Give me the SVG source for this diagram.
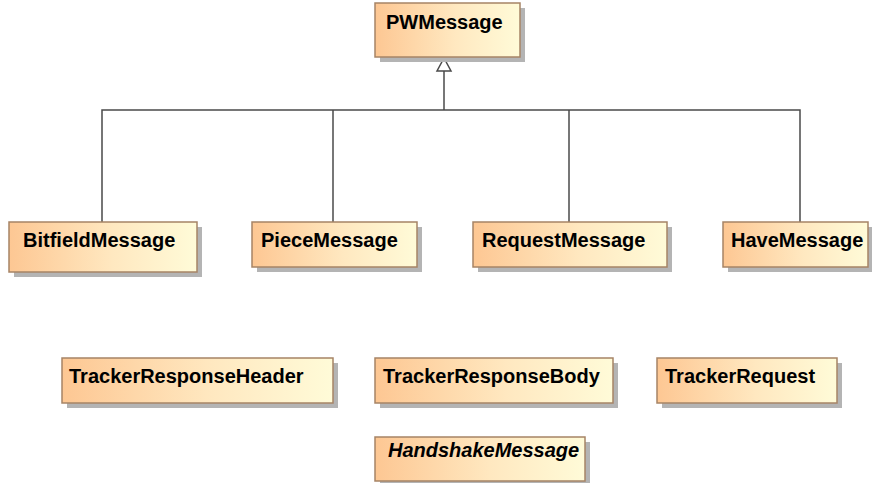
<svg xmlns="http://www.w3.org/2000/svg" width="872" height="483" viewBox="0 0 872 483">
  <defs>
    <linearGradient id="fillGrad" x1="0" y1="0" x2="1" y2="0">
      <stop offset="0" stop-color="#FDC793"/>
      <stop offset="0.55" stop-color="#FFE8C0"/>
      <stop offset="1" stop-color="#FFFBD8"/>
    </linearGradient>
  </defs>
  <style>
    .shadow { fill: #B4B4B4; }
    .box { fill: url(#fillGrad); stroke: #A68466; stroke-width: 1.5; }
    .label { font-family: "Liberation Sans", Arial, sans-serif; font-weight: bold; font-size: 20px; fill: #000; }
    .abstract { font-style: italic; }
    .edge { fill: none; stroke: #4A4A4A; stroke-width: 1.5; }
    .head { fill: #FFFFFF; stroke: #4A4A4A; stroke-width: 1.5; }
  </style>

  <rect width="872" height="483" fill="#FFFFFF"/>

  <!-- generalization connectors -->
  <g id="connectors">
    <path class="edge" d="M102 222 V110 H800 V222"/>
    <path class="edge" d="M333 222 V110"/>
    <path class="edge" d="M569 222 V110"/>
    <path class="edge" d="M444 110 V71"/>
    <polygon class="head" points="444,58 437,71 451,71"/>
  </g>

  <g id="PWMessage">
    <rect class="shadow" x="380" y="8" width="145" height="54"/>
    <rect class="box" x="375" y="3" width="145" height="54"/>
    <text class="label" x="386" y="29">PWMessage</text>
  </g>

  <g id="BitfieldMessage">
    <rect class="shadow" x="14" y="227" width="188" height="50"/>
    <rect class="box" x="9" y="222" width="188" height="50"/>
    <text class="label" x="23" y="247">BitfieldMessage</text>
  </g>

  <g id="PieceMessage">
    <rect class="shadow" x="257" y="227" width="165" height="45"/>
    <rect class="box" x="252" y="222" width="165" height="45"/>
    <text class="label" x="261" y="247">PieceMessage</text>
  </g>

  <g id="RequestMessage">
    <rect class="shadow" x="478" y="227" width="194" height="45"/>
    <rect class="box" x="473" y="222" width="194" height="45"/>
    <text class="label" x="482" y="247">RequestMessage</text>
  </g>

  <g id="HaveMessage">
    <rect class="shadow" x="728" y="227" width="145" height="45"/>
    <rect class="box" x="723" y="222" width="145" height="45"/>
    <text class="label" x="731" y="247">HaveMessage</text>
  </g>

  <g id="TrackerResponseHeader">
    <rect class="shadow" x="67" y="363" width="271" height="45"/>
    <rect class="box" x="62" y="358" width="271" height="45"/>
    <text class="label" x="69" y="383">TrackerResponseHeader</text>
  </g>

  <g id="TrackerResponseBody">
    <rect class="shadow" x="380" y="363" width="238" height="45"/>
    <rect class="box" x="375" y="358" width="238" height="45"/>
    <text class="label" x="383" y="383">TrackerResponseBody</text>
  </g>

  <g id="TrackerRequest">
    <rect class="shadow" x="662" y="363" width="180" height="45"/>
    <rect class="box" x="657" y="358" width="180" height="45"/>
    <text class="label" x="665" y="383">TrackerRequest</text>
  </g>

  <g id="HandshakeMessage">
    <rect class="shadow" x="380" y="442" width="210" height="45"/>
    <rect class="box" x="375" y="437" width="210" height="44"/>
    <text class="label abstract" x="388" y="457">HandshakeMessage</text>
  </g>
</svg>
